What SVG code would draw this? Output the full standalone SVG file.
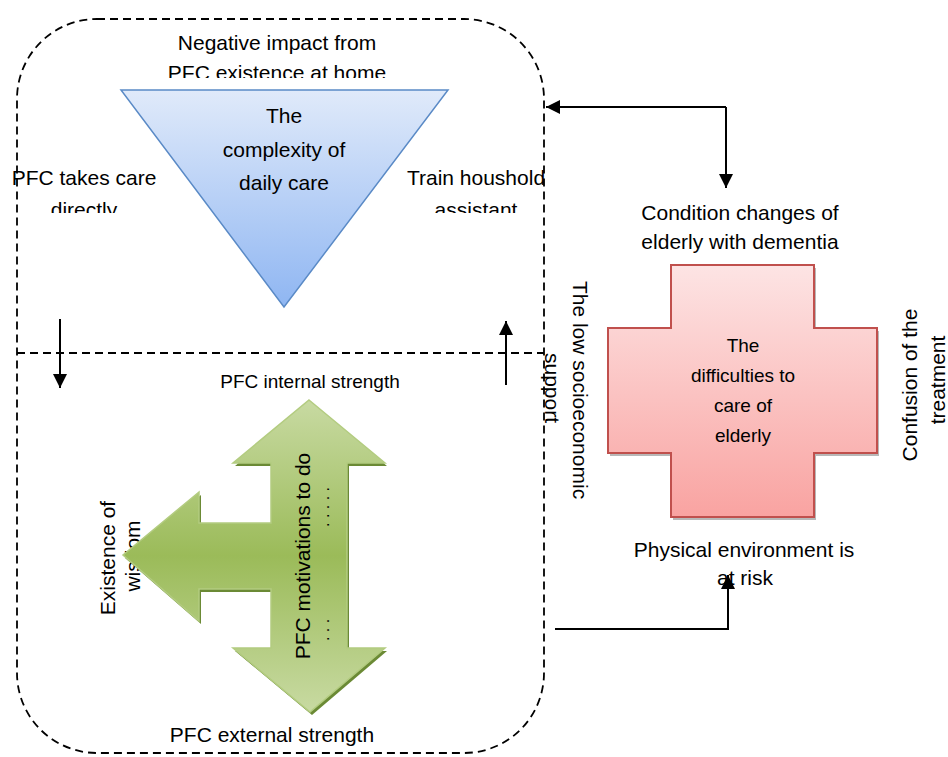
<svg xmlns="http://www.w3.org/2000/svg" width="948" height="757" viewBox="0 0 948 757">
<style>
text{font-family:"Liberation Sans",Arial,sans-serif;font-size:21px;fill:#000;}
.m{text-anchor:middle;}
.s{font-size:19px;}
.dash{fill:none;stroke:#000;stroke-width:1.8;stroke-dasharray:8 5;}
.conn{fill:none;stroke:#000;stroke-width:2;}
</style>
<defs>
<marker id="ah" viewBox="0 0 10 10" refX="10" refY="5" markerWidth="14" markerHeight="14" markerUnits="userSpaceOnUse" orient="auto">
<path d="M0,0 L10,5 L0,10 Z" fill="#000"/>
</marker>
<linearGradient id="gBlue" x1="0" y1="0" x2="0" y2="1">
<stop offset="0" stop-color="#e0eafa"/>
<stop offset="1" stop-color="#8fb6f2"/>
</linearGradient>
<linearGradient id="gRed" x1="0" y1="0" x2="0" y2="1">
<stop offset="0" stop-color="#fde4e4"/>
<stop offset="1" stop-color="#f9a3a1"/>
</linearGradient>
<linearGradient id="gGreen" x1="0" y1="0" x2="0" y2="1">
<stop offset="0" stop-color="#c8daa2"/>
<stop offset="0.5" stop-color="#9bbb59"/>
<stop offset="1" stop-color="#c8daa2"/>
</linearGradient>
<clipPath id="clipTop"><rect x="100" y="20" width="360" height="58"/></clipPath>
<clipPath id="clipSide"><rect x="0" y="160" width="560" height="53"/></clipPath>
</defs>

<g id="frame">
<rect class="dash" x="17" y="19" width="527" height="734" rx="80" ry="80"/>
<line class="dash" x1="17" y1="353" x2="544" y2="353"/>
</g>

<g id="connectors">
<line class="conn" x1="60" y1="319" x2="60" y2="388" marker-end="url(#ah)"/>
<line class="conn" x1="506" y1="385" x2="506" y2="321" marker-end="url(#ah)"/>
<polyline class="conn" points="726,107 546,107" marker-end="url(#ah)"/>
<polyline class="conn" points="726,107 726,188" marker-end="url(#ah)"/>
<polyline class="conn" points="555,629 728,629 728,575" marker-end="url(#ah)"/>
</g>

<g id="home-impact">
<text class="m" x="277" y="50">Negative impact from</text>
<text class="m" x="277" y="80" clip-path="url(#clipTop)">PFC existence at home</text>
</g>

<g id="complexity">
<path d="M121,90 L448,90 L284,307 Z" fill="url(#gBlue)" stroke="#5a8ac6" stroke-width="1.5"/>
<text class="m" x="284" y="123">The</text>
<text class="m" x="284" y="157">complexity of</text>
<text class="m" x="284" y="190">daily care</text>
</g>

<g id="pfc-direct">
<text class="m" x="84" y="185">PFC takes care</text>
<text class="m" x="84" y="217" clip-path="url(#clipSide)">directly</text>
</g>

<g id="train-assistant">
<text class="m" x="476" y="185">Train houshold</text>
<text class="m" x="476" y="217" clip-path="url(#clipSide)">assistant</text>
</g>

<g id="wisdom">
<text class="m" transform="translate(115,558) rotate(-90)">Existence of</text>
<text class="m" transform="translate(140,556) rotate(-90)">wisdom</text>
</g>

<g id="motivations">
<text class="m s" x="310" y="388">PFC internal strength</text>
<path d="M311,403 L387,466 L349,466 L349,651 L387,651 L312,715 L235,651 L273,651 L273,592 L201,592 L201,624 L125,558 L201,495 L201,526 L273,526 L273,466 L235,466 Z" fill="#6b8a35"/>
<path d="M309,400 L385,463 L347,463 L347,648 L385,648 L310,712 L233,648 L271,648 L271,589 L199,589 L199,621 L123,555 L199,492 L199,523 L271,523 L271,463 L233,463 Z" fill="url(#gGreen)" stroke="#b3cc80" stroke-width="1.5"/>
<text class="m" transform="translate(310,556) rotate(-90)">PFC motivations to do</text>
<text class="m" style="font-size:16px" transform="translate(329,507) rotate(-90)">.  . .  . .</text>
<text class="m" style="font-size:16px" transform="translate(329,630) rotate(-90)">. . .</text>
<text class="m" x="272" y="742">PFC external strength</text>
</g>

<g id="socioeconomic">
<text class="m" transform="translate(573,390) rotate(90)">The low socioeconomic</text>
<text class="m" transform="translate(545,388) rotate(90)">support</text>
</g>

<g id="condition">
<text class="m" x="740" y="220">Condition changes of</text>
<text class="m" x="740" y="249">elderly with dementia</text>
</g>

<g id="difficulties">
<path d="M673,268 L816,268 L816,331 L879,331 L879,456 L816,456 L816,520 L673,520 L673,456 L610,456 L610,331 L673,331 Z" fill="#a6a6a6" opacity="0.8"/>
<path d="M671,265 L814,265 L814,328 L877,328 L877,453 L814,453 L814,517 L671,517 L671,453 L608,453 L608,328 L671,328 Z" fill="url(#gRed)" stroke="#c0504d" stroke-width="2"/>
<text class="m s" x="743" y="352">The</text>
<text class="m s" x="743" y="382">difficulties to</text>
<text class="m s" x="743" y="412">care of</text>
<text class="m s" x="743" y="442">elderly</text>
</g>

<g id="physical">
<text class="m" x="744" y="557">Physical environment is</text>
<text class="m" x="745" y="585">at risk</text>
</g>

<g id="confusion">
<text class="m" transform="translate(917,385) rotate(-90)">Confusion of the</text>
<text class="m" transform="translate(945,380) rotate(-90)">treatment</text>
</g>
</svg>
